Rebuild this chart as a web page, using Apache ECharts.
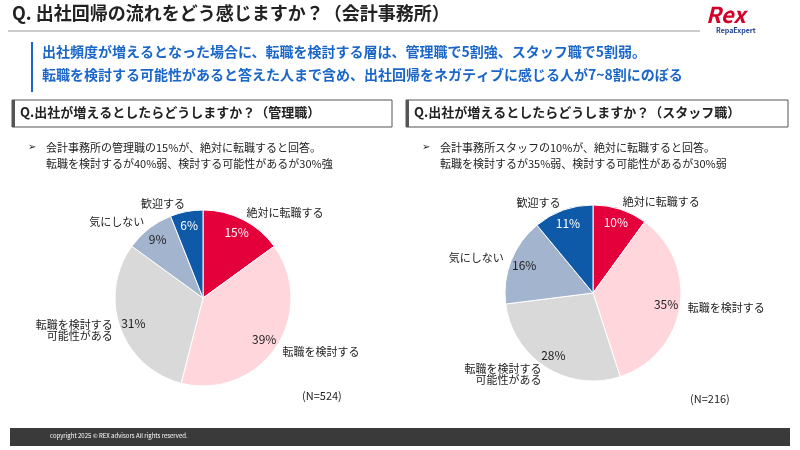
<!DOCTYPE html>
<html><head><meta charset="utf-8">
<script src="https://cdn.jsdelivr.net/npm/echarts@6/dist/echarts.min.js"></script>
<style>html,body{margin:0;padding:0;background:#fff}#c{width:800px;height:450px}</style>
</head><body><div id="c"></div>
<script>
const categories = ['絶対に転職する','転職を検討する','転職を検討する\n可能性がある','気にしない','歓迎する'];
const managerValues = [15,39,31,9,6];
const staffValues = [10,35,28,16,11];
const colors = ['#e4003a','#ffd6dc','#d9d9d9','#a3b4cf','#0f5aa8'];
const pctColors = ['#fff','#222','#222','#222','#fff'];
const F = '"Noto Sans CJK JP","Noto Sans",sans-serif';
function pieSeries(vals, center){
  return [{
    type:'pie',center:center,radius:[0,88],startAngle:90,clockwise:true,silent:true,
    itemStyle:{borderColor:'#fff',borderWidth:1},
    label:{show:false},labelLine:{show:false},
    data:vals.map((v,i)=>({name:categories[i],value:v,itemStyle:{color:colors[i]}}))
  },{
    type:'pie',center:center,radius:[54,88],startAngle:90,clockwise:true,silent:true,
    itemStyle:{color:'transparent'},
    label:{position:'inner',formatter:'{c}%',fontSize:12,fontFamily:F},
    labelLine:{show:false},
    data:vals.map((v,i)=>({name:categories[i],value:v,label:{color:pctColors[i]}}))
  },{
    type:'pie',center:center,radius:[0,88],startAngle:90,clockwise:true,silent:true,
    itemStyle:{color:'transparent'},
    label:{position:'outside',formatter:'{b}',fontSize:11,color:'#222',fontFamily:F,distanceToLabelLine:0},
    labelLine:{show:false,length:8,length2:0},
    data:vals.map((v,i)=>({name:categories[i],value:v}))
  }];
}
const chart = echarts.init(document.getElementById('c'));
const t=(x,y,s,o)=>Object.assign({type:'text',left:x,top:y,style:Object.assign({text:s,fontFamily:F,fontSize:12,fill:'#222'},o||{})});
chart.setOption({
  animation:false,
  graphic:[
    t(12,4,'Q. 出社回帰の流れをどう感じますか？（会計事務所）',{fontSize:18,fontWeight:'bold'}),
    {type:'line',shape:{x1:8,y1:31,x2:700,y2:31},style:{stroke:'#999',lineWidth:1}},
    t(706,4,'Rex',{fontSize:22,fontWeight:'bold',fill:'#d4002a',fontStyle:'italic'}),
    t(716,27,'RepaExpert',{fontSize:7,fill:'#1b3f8f',fontWeight:'bold'}),
    {type:'rect',shape:{x:31,y:42,width:2,height:50},style:{fill:'#1b66c9'}},
    t(42,45,'出社頻度が増えるとなった場合に、転職を検討する層は、管理職で5割強、スタッフ職で5割弱。',{fontSize:14,fontWeight:'bold',fill:'#1b66c9'}),
    t(42,68,'転職を検討する可能性があると答えた人まで含め、出社回帰をネガティブに感じる人が7~8割にのぼる',{fontSize:14,fontWeight:'bold',fill:'#1b66c9'}),
    {type:'rect',shape:{x:12,y:100,width:380,height:27},style:{fill:'none',stroke:'#555',lineWidth:1}},
    {type:'rect',shape:{x:12,y:100,width:3,height:27},style:{fill:'#555'}},
    t(20,106,'Q.出社が増えるとしたらどうしますか？（管理職）',{fontSize:13,fontWeight:'bold'}),
    {type:'rect',shape:{x:406,y:100,width:382,height:27},style:{fill:'none',stroke:'#555',lineWidth:1}},
    {type:'rect',shape:{x:406,y:100,width:3,height:27},style:{fill:'#555'}},
    t(414,106,'Q.出社が増えるとしたらどうしますか？（スタッフ職）',{fontSize:13,fontWeight:'bold'}),
    t(28,141,'➢',{fontSize:10}),
    t(46,140,'会計事務所の管理職の15%が、絶対に転職すると回答。\n転職を検討するが40%弱、検討する可能性があるが30%強',{fontSize:11,lineHeight:16}),
    t(422,141,'➢',{fontSize:10}),
    t(440,140,'会計事務所スタッフの10%が、絶対に転職すると回答。\n転職を検討するが35%弱、検討する可能性があるが30%弱',{fontSize:11,lineHeight:16}),
    t(302,390,'(N=524)',{fontSize:11}),
    t(690,393,'(N=216)',{fontSize:11}),
    {type:'rect',shape:{x:10,y:428,width:780,height:18},style:{fill:'#3a3a3a'}},
    t(50,433,'copyright 2025 © REX advisors All rights reserved.',{fontSize:6,fill:'#fff'})
  ],
  series:[...pieSeries(managerValues,[203,298]),...pieSeries(staffValues,[593,293])]
});
</script></body></html>
